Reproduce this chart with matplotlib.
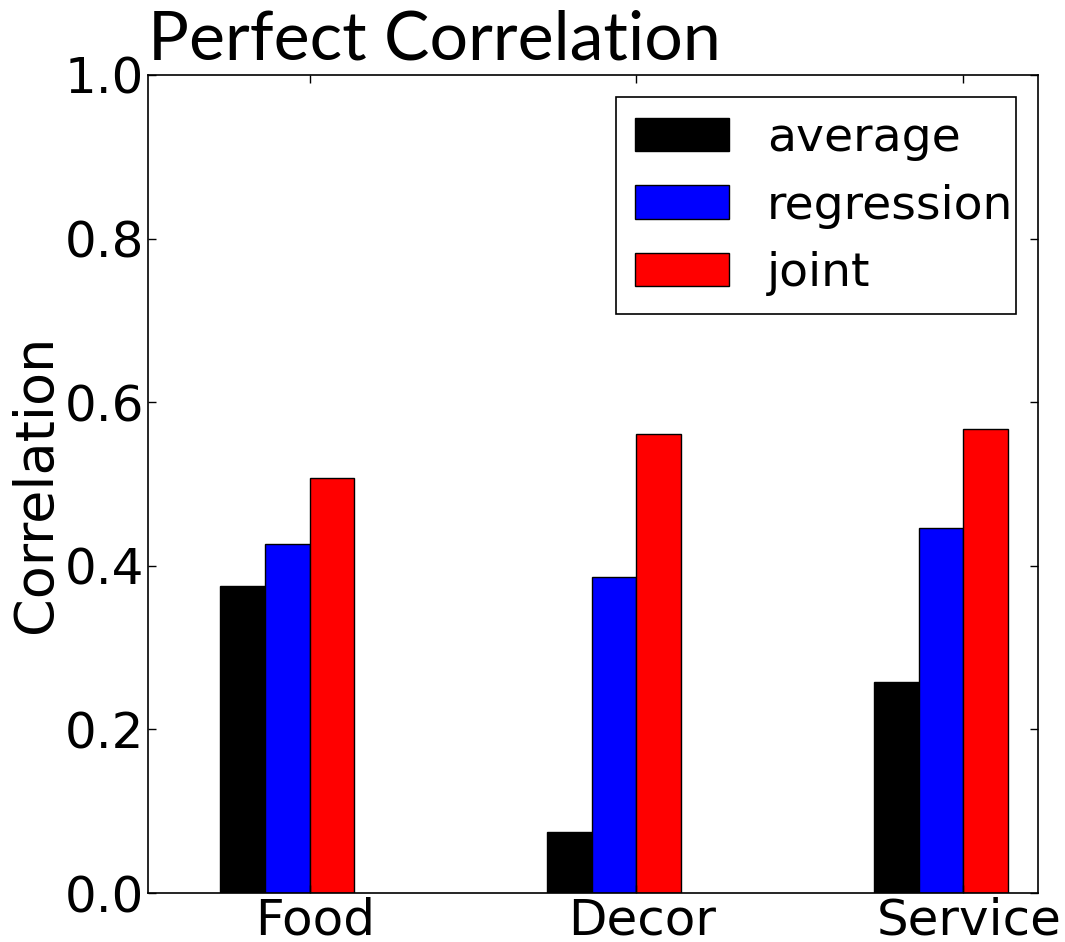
import numpy as np
import matplotlib
matplotlib.use("Agg")
import matplotlib.pyplot as plt
from matplotlib.patches import Rectangle
from matplotlib.transforms import ScaledTranslation

categories = ["Food", "Decor", "Service"]
series_names = ["average", "regression", "joint"]
average = [0.375, 0.075, 0.258]
regression = [0.427, 0.386, 0.446]
joint = [0.507, 0.561, 0.567]
colors = ["black", "blue", "red"]

fig = plt.figure(figsize=(10.65, 9.42), dpi=100)
ax = fig.add_axes([0.139, 0.052, 0.9746 - 0.139, 0.9204 - 0.052])

ind = np.arange(len(categories))
width = 0.137
for k, (vals, name, c) in enumerate(zip([average, regression, joint], series_names, colors)):
    ax.bar(ind + k * width, vals, width, align="edge", color=c,
           edgecolor="black", linewidth=1.0, label=name)

ax.set_xlim(-0.22, 2.502)
ax.set_ylim(0, 1.0)
ax.set_xticks(ind + 2 * width)
ax.set_xticklabels(categories)
yt = np.arange(0, 1.01, 0.2)
ax.set_yticks(yt)
ax.set_yticklabels([f"{v:.1f}" for v in yt])
ax.tick_params(direction="in", top=True, right=True, length=6, width=1,
               labelsize=36)
ax.tick_params(axis="y", pad=3)
ax.tick_params(axis="x", pad=2.5)
# nudge category labels slightly to the right of their ticks
shift = ScaledTranslation(0.06, 0, fig.dpi_scale_trans)
for lbl in ax.get_xticklabels():
    lbl.set_transform(lbl.get_transform() + shift)
for s in ax.spines.values():
    s.set_linewidth(1.2)

ax.set_ylabel("Correlation", fontsize=39, labelpad=2)
ax.set_title("Perfect Correlation", loc="left", fontsize=49, family="Lato",
             pad=11.5)

# legend box drawn as a plain square-cornered frame behind the entries
ax.add_patch(Rectangle((0.5258, 0.7078), 0.4494, 0.2653, transform=ax.transAxes,
                       facecolor="white", edgecolor="black", linewidth=1.2,
                       zorder=4.9, clip_on=False))
ax.legend(loc="upper left", bbox_to_anchor=(0.5258, 0.9731), fontsize=34,
          frameon=False, labelspacing=0.48, handlelength=2.0, handleheight=0.7,
          handletextpad=0.8, borderpad=0.4, borderaxespad=0.0)

fig.savefig("out.png", dpi=100)
